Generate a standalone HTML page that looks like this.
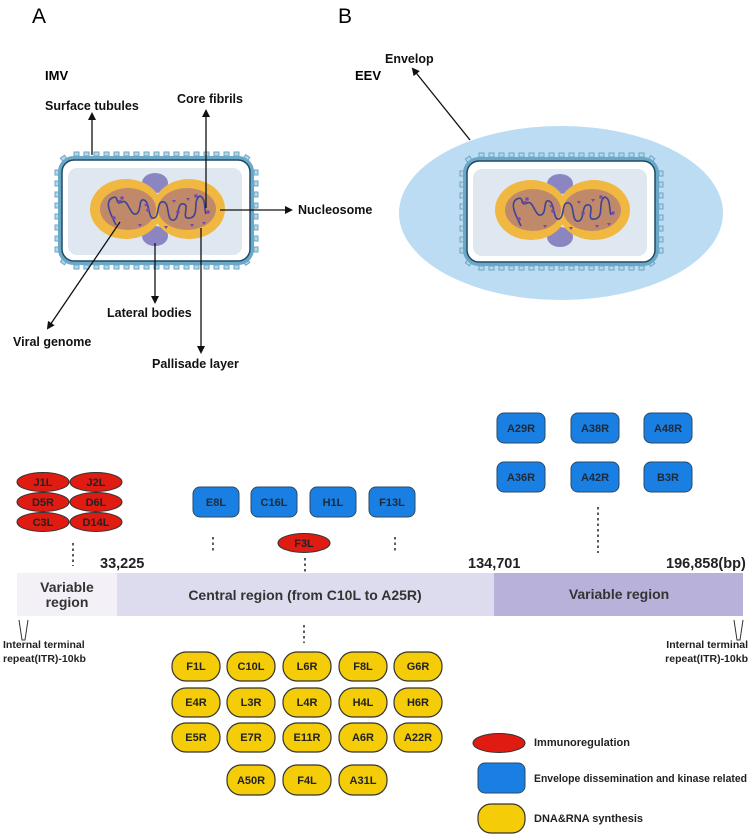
<!DOCTYPE html>
<html><head><meta charset="utf-8"><style>
html,body{margin:0;padding:0;background:#fff;}
svg{display:block;font-family:"Liberation Sans",Arial,sans-serif;font-weight:bold;}
</style></head><body>
<svg width="753" height="840" viewBox="0 0 753 840" xmlns="http://www.w3.org/2000/svg">
<defs>
<marker id="ah" markerWidth="8" markerHeight="8" refX="6" refY="4" orient="auto" markerUnits="userSpaceOnUse">
<path d="M0,0 L8,4 L0,8 z" fill="#111"/></marker>
<g id="virus">
  <g fill="#b6d7e8" stroke="#6aa5c4" stroke-width="1">
    <rect x="-82" y="-58" width="5" height="4"/><rect x="-72" y="-58" width="5" height="4"/><rect x="-62" y="-58" width="5" height="4"/><rect x="-52" y="-58" width="5" height="4"/><rect x="-42" y="-58" width="5" height="4"/><rect x="-32" y="-58" width="5" height="4"/><rect x="-22" y="-58" width="5" height="4"/><rect x="-12" y="-58" width="5" height="4"/><rect x="-2" y="-58" width="5" height="4"/><rect x="8" y="-58" width="5" height="4"/><rect x="18" y="-58" width="5" height="4"/><rect x="28" y="-58" width="5" height="4"/><rect x="38" y="-58" width="5" height="4"/><rect x="48" y="-58" width="5" height="4"/><rect x="58" y="-58" width="5" height="4"/><rect x="68" y="-58" width="5" height="4"/><rect x="78" y="-58" width="5" height="4"/>
    <rect x="-82" y="55" width="5" height="4"/><rect x="-72" y="55" width="5" height="4"/><rect x="-62" y="55" width="5" height="4"/><rect x="-52" y="55" width="5" height="4"/><rect x="-42" y="55" width="5" height="4"/><rect x="-32" y="55" width="5" height="4"/><rect x="-22" y="55" width="5" height="4"/><rect x="-12" y="55" width="5" height="4"/><rect x="-2" y="55" width="5" height="4"/><rect x="8" y="55" width="5" height="4"/><rect x="18" y="55" width="5" height="4"/><rect x="28" y="55" width="5" height="4"/><rect x="38" y="55" width="5" height="4"/><rect x="48" y="55" width="5" height="4"/><rect x="58" y="55" width="5" height="4"/><rect x="68" y="55" width="5" height="4"/><rect x="78" y="55" width="5" height="4"/>
    <rect x="-101" y="-40" width="4" height="5"/><rect x="-101" y="-29" width="4" height="5"/><rect x="-101" y="-18" width="4" height="5"/><rect x="-101" y="-7" width="4" height="5"/><rect x="-101" y="4" width="4" height="5"/><rect x="-101" y="15" width="4" height="5"/><rect x="-101" y="26" width="4" height="5"/><rect x="-101" y="37" width="4" height="5"/>
    <rect x="98" y="-40" width="4" height="5"/><rect x="98" y="-29" width="4" height="5"/><rect x="98" y="-18" width="4" height="5"/><rect x="98" y="-7" width="4" height="5"/><rect x="98" y="4" width="4" height="5"/><rect x="98" y="15" width="4" height="5"/><rect x="98" y="26" width="4" height="5"/><rect x="98" y="37" width="4" height="5"/>
    <rect x="-95" y="-54" width="5" height="4" transform="rotate(-35 -92 -52)"/><rect x="88" y="-54" width="5" height="4" transform="rotate(35 91 -52)"/>
    <rect x="-95" y="50" width="5" height="4" transform="rotate(35 -92 52)"/><rect x="88" y="50" width="5" height="4" transform="rotate(-35 91 52)"/>
  </g>
  <rect x="-96" y="-52" width="192" height="105" rx="14" fill="#fff" stroke="#6aa8c8" stroke-width="4"/>
  <rect x="-94" y="-50" width="188" height="101" rx="12" fill="#fff" stroke="#1e4a66" stroke-width="1.5"/>
  <rect x="-88" y="-42" width="174" height="87" rx="9" fill="#dfe7f1"/>
  <ellipse cx="-1" cy="-27" rx="13" ry="10" fill="#8b86c2"/>
  <ellipse cx="-1" cy="26" rx="13" ry="10" fill="#8b86c2"/>
  <ellipse cx="-30" cy="-1" rx="36" ry="30" fill="#f0b840"/>
  <ellipse cx="33" cy="-1" rx="36" ry="30" fill="#f0b840"/>
  <ellipse cx="-28" cy="-1" rx="28" ry="21" fill="#c08a6a"/>
  <ellipse cx="31" cy="-1" rx="29" ry="21" fill="#c08a6a"/>
  <path d="M-40,15 C-45,5 -52,-8 -44,-12 C-36,-16 -42,-4 -34,-8 C-28,-12 -26,6 -20,4 C-14,2 -18,-12 -12,-10 C-6,-8 -8,10 -2,8 C4,6 0,-10 8,-8 C14,-6 10,12 18,10 C24,8 20,-8 28,-6 C34,-4 24,10 34,8 C44,6 36,-10 44,-14 C50,-12 48,0 50,4" fill="none" stroke="#3a4596" stroke-width="1.6"/>
  <g fill="#7a48a8"><circle cx="-34" cy="-12" r="1.8"/><circle cx="-42" cy="8" r="1.8"/><circle cx="-8" cy="0" r="1.8"/><circle cx="22" cy="2" r="1.8"/><circle cx="52" cy="2" r="1.8"/><circle cx="40" cy="-14" r="1.8"/>
  <path d="M-38,-10 l4,0 l-2,3z M-12,-6 l4,0 l-2,3z M16,-10 l4,0 l-2,3z M-18,14 l4,0 l-2,3z M8,16 l4,0 l-2,3z M30,-12 l4,0 l-2,3z M46,12 l4,0 l-2,3z M34,14 l4,0 l-2,3z"/></g>
</g>
</defs>

<text x="32" y="23" font-size="21" font-weight="normal">A</text>
<text x="338" y="23" font-size="21" font-weight="normal">B</text>
<text x="45" y="80" font-size="13">IMV</text>
<text x="355" y="80" font-size="13">EEV</text>

<use href="#virus" transform="translate(156,210)"/>
<g stroke="#111" stroke-width="1.3" fill="none" marker-end="url(#ah)">
<line x1="92" y1="155" x2="92" y2="114"/>
<line x1="206" y1="208" x2="206" y2="111"/>
<line x1="220" y1="210" x2="291" y2="210"/>
<line x1="155" y1="243" x2="155" y2="302"/>
<line x1="120" y1="222" x2="48" y2="328"/>
<line x1="201" y1="228" x2="201" y2="352"/>
<line x1="470" y1="140" x2="413" y2="69"/>
</g>
<g font-size="12.5" fill="#111">
<text x="45" y="110">Surface tubules</text>
<text x="177" y="103">Core fibrils</text>
<text x="298" y="214">Nucleosome</text>
<text x="107" y="317">Lateral bodies</text>
<text x="13" y="346">Viral genome</text>
<text x="152" y="368">Pallisade layer</text>
<text x="385" y="63">Envelop</text>
</g>

<ellipse cx="561" cy="213" rx="162" ry="87" fill="#bcdcf3"/>
<use href="#virus" transform="translate(561,211)"/>

<text x="30" y="491" font-size="21" font-weight="normal">C</text>
<g stroke="#333" stroke-width="1">
<ellipse cx="43" cy="482" rx="26" ry="9.5" fill="#e01b12"/><ellipse cx="96" cy="482" rx="26" ry="9.5" fill="#e01b12"/>
<ellipse cx="43" cy="502" rx="26" ry="9.5" fill="#e01b12"/><ellipse cx="96" cy="502" rx="26" ry="9.5" fill="#e01b12"/>
<ellipse cx="43" cy="522" rx="26" ry="9.5" fill="#e01b12"/><ellipse cx="96" cy="522" rx="26" ry="9.5" fill="#e01b12"/>
<ellipse cx="304" cy="543" rx="26" ry="9.5" fill="#e01b12"/>
</g>
<g font-size="11" fill="#222" text-anchor="middle">
<text x="43" y="486">J1L</text><text x="96" y="486">J2L</text>
<text x="43" y="506">D5R</text><text x="96" y="506">D6L</text>
<text x="43" y="526">C3L</text><text x="96" y="526">D14L</text>
<text x="304" y="547">F3L</text>
</g>
<g fill="#1a7fe2" stroke="#2b4a66" stroke-width="1">
<rect x="193" y="487" width="46" height="30" rx="7"/><rect x="251" y="487" width="46" height="30" rx="7"/>
<rect x="310" y="487" width="46" height="30" rx="7"/><rect x="369" y="487" width="46" height="30" rx="7"/>
<rect x="497" y="413" width="48" height="30" rx="7"/><rect x="571" y="413" width="48" height="30" rx="7"/><rect x="644" y="413" width="48" height="30" rx="7"/>
<rect x="497" y="462" width="48" height="30" rx="7"/><rect x="571" y="462" width="48" height="30" rx="7"/><rect x="644" y="462" width="48" height="30" rx="7"/>
</g>
<g font-size="11" fill="#1d2a3a" text-anchor="middle">
<text x="216" y="506">E8L</text><text x="274" y="506">C16L</text><text x="333" y="506">H1L</text><text x="392" y="506">F13L</text>
<text x="521" y="432">A29R</text><text x="595" y="432">A38R</text><text x="668" y="432">A48R</text>
<text x="521" y="481">A36R</text><text x="595" y="481">A42R</text><text x="668" y="481">B3R</text>
</g>
<g stroke="#333" stroke-width="1.6" stroke-dasharray="2.5,3">
<line x1="73" y1="543" x2="73" y2="566"/>
<line x1="213" y1="537" x2="213" y2="553"/>
<line x1="395" y1="537" x2="395" y2="553"/>
<line x1="305" y1="558" x2="305" y2="573"/>
<line x1="598" y1="507" x2="598" y2="553"/>
<line x1="304" y1="625" x2="304" y2="643"/>
</g>
<rect x="17" y="573" width="100" height="43" fill="#f3f0f8"/>
<rect x="117" y="573" width="377" height="43" fill="#dddbee"/>
<rect x="494" y="573" width="249" height="43" fill="#b8b1d9"/>
<g font-size="14" fill="#333" text-anchor="middle">
<text x="67" y="592">Variable</text><text x="67" y="607">region</text>
<text x="305" y="600">Central region (from C10L to A25R)</text>
<text x="619" y="599">Variable region</text>
</g>
<g font-size="14.5" fill="#222">
<text x="100" y="568">33,225</text>
<text x="468" y="568">134,701</text>
<text x="666" y="568">196,858(bp)</text>
</g>
<path d="M19,620 L22,640 L25,640 L28,620" fill="none" stroke="#333" stroke-width="1"/>
<path d="M734,620 L737,640 L740,640 L743,620" fill="none" stroke="#333" stroke-width="1"/>
<g font-size="10.5" fill="#222">
<text x="3" y="648">Internal terminal</text><text x="3" y="662">repeat(ITR)-10kb</text>
<text x="748" y="648" text-anchor="end">Internal terminal</text><text x="748" y="662" text-anchor="end">repeat(ITR)-10kb</text>
</g>
<g fill="#f4cc08" stroke="#333" stroke-width="1.2">
<rect x="172" y="652" width="48" height="29" rx="14"/><rect x="227" y="652" width="48" height="29" rx="14"/><rect x="283" y="652" width="48" height="29" rx="14"/><rect x="339" y="652" width="48" height="29" rx="14"/><rect x="394" y="652" width="48" height="29" rx="14"/>
<rect x="172" y="688" width="48" height="29" rx="14"/><rect x="227" y="688" width="48" height="29" rx="14"/><rect x="283" y="688" width="48" height="29" rx="14"/><rect x="339" y="688" width="48" height="29" rx="14"/><rect x="394" y="688" width="48" height="29" rx="14"/>
<rect x="172" y="723" width="48" height="29" rx="14"/><rect x="227" y="723" width="48" height="29" rx="14"/><rect x="283" y="723" width="48" height="29" rx="14"/><rect x="339" y="723" width="48" height="29" rx="14"/><rect x="394" y="723" width="48" height="29" rx="14"/>
<rect x="227" y="765" width="48" height="30" rx="14"/><rect x="283" y="765" width="48" height="30" rx="14"/><rect x="339" y="765" width="48" height="30" rx="14"/>
</g>
<g font-size="11" fill="#222" text-anchor="middle">
<text x="196" y="670">F1L</text><text x="251" y="670">C10L</text><text x="307" y="670">L6R</text><text x="363" y="670">F8L</text><text x="418" y="670">G6R</text>
<text x="196" y="706">E4R</text><text x="251" y="706">L3R</text><text x="307" y="706">L4R</text><text x="363" y="706">H4L</text><text x="418" y="706">H6R</text>
<text x="196" y="741">E5R</text><text x="251" y="741">E7R</text><text x="307" y="741">E11R</text><text x="363" y="741">A6R</text><text x="418" y="741">A22R</text>
<text x="251" y="784">A50R</text><text x="307" y="784">F4L</text><text x="363" y="784">A31L</text>
</g>
<ellipse cx="499" cy="743" rx="26" ry="9.5" fill="#e01b12" stroke="#333" stroke-width="1"/>
<rect x="478" y="763" width="47" height="30" rx="7" fill="#1a7fe2" stroke="#2b4a66" stroke-width="1"/>
<rect x="478" y="804" width="47" height="29" rx="13" fill="#f4cc08" stroke="#333" stroke-width="1.2"/>
<g font-size="11" fill="#222">
<text x="534" y="746">Immunoregulation</text>
<text x="534" y="782" textLength="213" lengthAdjust="spacingAndGlyphs">Envelope dissemination and kinase related</text>
<text x="534" y="822">DNA&amp;RNA synthesis</text>
</g>
</svg>
</body></html>
